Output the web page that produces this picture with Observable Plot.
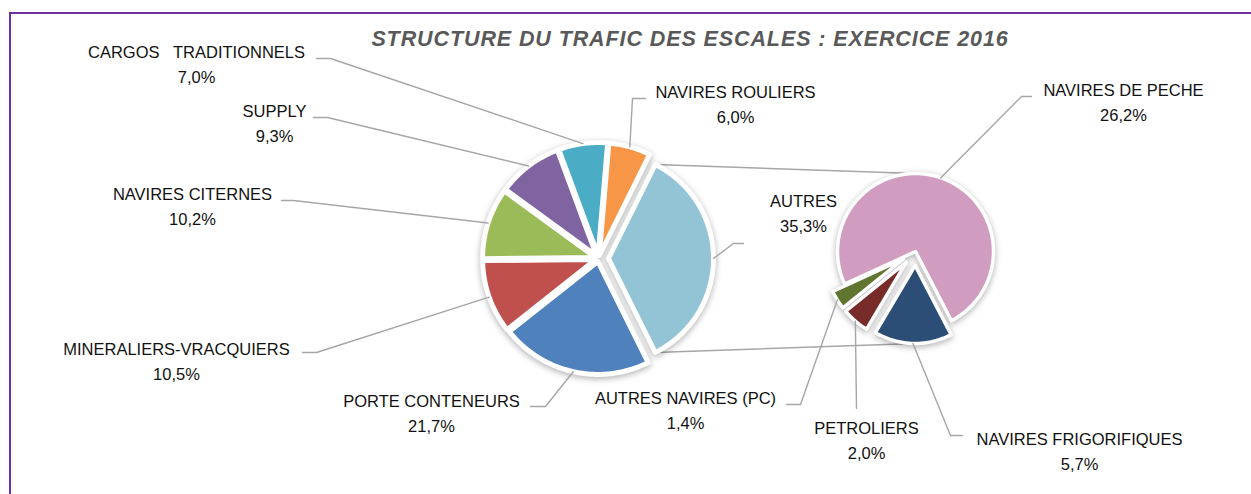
<!DOCTYPE html>
<html><head><meta charset="utf-8">
<script src="https://cdn.jsdelivr.net/npm/d3@7"></script>
<script src="https://cdn.jsdelivr.net/npm/@observablehq/plot@0.6"></script>
<style>
html,body{margin:0;padding:0;background:#fff;width:1251px;height:494px;overflow:hidden;}
#wrap{position:relative;width:1251px;height:494px;}
#frame{position:absolute;left:9px;top:12px;right:0;bottom:0;border-top:2px solid #7030A0;border-left:2px solid #7030A0;}
#chart{position:absolute;left:0;top:0;}
#title{position:absolute;left:0;width:1380px;top:27px;margin:0;text-align:center;font:italic bold 21.5px "Liberation Sans",Arial,sans-serif;letter-spacing:0.9px;color:#595959;line-height:24px;}
</style></head><body>
<div id="wrap"><div id="frame"></div><div id="chart"></div><h2 id="title">STRUCTURE DU TRAFIC DES ESCALES : EXERCICE 2016</h2></div>
<script>
// ---- data ----
const mainCategories = ["AUTRES", "PORTE CONTENEURS", "MINERALIERS-VRACQUIERS", "NAVIRES CITERNES", "SUPPLY", "CARGOS   TRADITIONNELS", "NAVIRES ROULIERS"];
const mainValues = [35.3, 21.7, 10.5, 10.2, 9.3, 7.0, 6.0];
const subCategories = ["NAVIRES FRIGORIFIQUES", "PETROLIERS", "AUTRES NAVIRES (PC)", "NAVIRES DE PECHE"];
const subValues = [5.7, 2.0, 1.4, 26.2];

// ---- styles ----
const mainColors = ["#93C4D6", "#4F81BD", "#C0504D", "#9BBB59", "#8064A2", "#4BACC6", "#F79646"];
const subColors = ["#2C4D75", "#772C2A", "#5F7530", "#D09DC1"];

// ---- layout ----
const W = 1251, H = 494;
const mainPie = {cx: 598, cy: 258, r: 113, explode: 3, otherExplode: 10, otherR: 105};
const subPie = {cx: 915, cy: 251, r: 78, explode: 14, startDeg: 152.5};
const labelLayout = {
  "CARGOS   TRADITIONNELS": {x: 196, y: 57, leader: [[316, 58], [330, 58]]},
  "SUPPLY": {x: 274, y: 116, leader: [[313, 117], [327, 117]]},
  "NAVIRES CITERNES": {x: 192, y: 199, leader: [[281, 200], [293, 200]]},
  "MINERALIERS-VRACQUIERS": {x: 176, y: 354, leader: [[302, 352], [316, 352]]},
  "PORTE CONTENEURS": {x: 431, y: 406, leader: [[530, 406], [545, 406]]},
  "AUTRES": {x: 803, y: 206, leader: [[743, 243], [733, 243]]},
  "NAVIRES ROULIERS": {x: 735, y: 97, leader: [[645, 98], [632, 98]]},
  "NAVIRES DE PECHE": {x: 1123, y: 95, leader: [[1031, 96], [1021, 96]]},
  "AUTRES NAVIRES (PC)": {x: 685, y: 403, leader: [[786, 404], [800, 404]]},
  "PETROLIERS": {x: 866, y: 433, leader: [[856, 408]]},
  "NAVIRES FRIGORIFIQUES": {x: 1079, y: 444, leader: [[962, 435], [950, 435]]}
};
const lineGap = 25;

// ---- geometry from data ----
const rad = d => d * Math.PI / 180;
function slice(cat, value, a0, a1, cx, cy, r, explode) {
  const mid = (a0 + a1) / 2;
  const ox = cx + explode * Math.sin(mid), oy = cy - explode * Math.cos(mid);
  const pts = [{key: cat, cat, x: ox, y: oy}];
  const n = Math.max(2, Math.ceil((a1 - a0) / rad(1)));
  for (let i = 0; i <= n; i++) {
    const a = a0 + (a1 - a0) * i / n;
    pts.push({key: cat, cat, x: ox + r * Math.sin(a), y: oy - r * Math.cos(a)});
  }
  return {cat, value, pts, a0, a1, ox, oy, r,
    mid: {x: ox + r * Math.sin(mid), y: oy - r * Math.cos(mid)},
    start: {x: ox + r * Math.sin(a0), y: oy - r * Math.cos(a0)},
    end: {x: ox + r * Math.sin(a1), y: oy - r * Math.cos(a1)}};
}

const mainData = mainCategories.map((c, i) => ({cat: c, value: mainValues[i]}));
const mainTotal = d3.sum(mainValues);
const mainStart = rad(90) - Math.PI * mainValues[0] / mainTotal;
const mainArcs = d3.pie().sort(null).value(d => d.value).startAngle(mainStart).endAngle(mainStart + 2 * Math.PI)(mainData);
const mainSlices = mainArcs.map((a, i) => i === 0
  ? slice(a.data.cat, a.data.value, a.startAngle, a.endAngle, mainPie.cx, mainPie.cy, mainPie.otherR, mainPie.otherExplode)
  : slice(a.data.cat, a.data.value, a.startAngle, a.endAngle, mainPie.cx, mainPie.cy, mainPie.r, mainPie.explode));

const subData = subCategories.map((c, i) => ({cat: c, value: subValues[i]}));
const subStart = rad(subPie.startDeg);
const subArcs = d3.pie().sort(null).value(d => d.value).startAngle(subStart).endAngle(subStart + 2 * Math.PI)(subData);
const subSlices = subArcs.map((a, i) => slice(a.data.cat, a.data.value, a.startAngle, a.endAngle, subPie.cx, subPie.cy, subPie.r, i < subArcs.length - 1 ? subPie.explode : 0));

const fmt = v => v.toFixed(1).replace(".", ",") + "%";
const allSlices = [...mainSlices, ...subSlices];
const labels = allSlices.map(s => {
  const L = labelLayout[s.cat];
  return {cat: s.cat, x: L.x, y: L.y + lineGap, text: s.cat + "\n" + fmt(s.value)};
});
const leaders = allSlices.flatMap(s => {
  const L = labelLayout[s.cat];
  return [...L.leader.map(p => ({key: s.cat, x: p[0], y: p[1]})), {key: s.cat, x: s.mid.x, y: s.mid.y}];
});
const other = mainSlices[0];
const connectors = [
  {key: "top", x: other.start.x, y: other.start.y}, {key: "top", x: subPie.cx, y: subPie.cy - subPie.r},
  {key: "bot", x: other.end.x, y: other.end.y}, {key: "bot", x: subPie.cx, y: subPie.cy + subPie.r + subPie.explode}
];

const plot = Plot.plot({
  width: W, height: H, margin: 0,
  x: {type: "identity", axis: null},
  y: {type: "identity", axis: null},
  color: {domain: [...mainCategories, ...subCategories], range: [...mainColors, ...subColors]},
  style: {background: "transparent", overflow: "visible"},
  marks: [
    Plot.line(connectors, {x: "x", y: "y", z: "key", stroke: "#A6A6A6", strokeWidth: 1.4}),
    Plot.line(mainSlices.flatMap(s => s.pts), {x: "x", y: "y", z: "key", fill: "cat", stroke: "white", strokeWidth: 5, strokeLinejoin: "round", curve: "linear-closed"}),
    Plot.line(subSlices.flatMap(s => s.pts), {x: "x", y: "y", z: "key", fill: "cat", stroke: "white", strokeWidth: 3.5, strokeLinejoin: "round", curve: "linear-closed"}),
    Plot.line(leaders, {x: "x", y: "y", z: "key", stroke: "#A6A6A6", strokeWidth: 1.4}),
    Plot.text(labels, {x: "x", y: "y", text: "text", lineAnchor: "bottom", lineHeight: lineGap / 16.5, fontSize: 16.5, fontFamily: "Liberation Sans, Arial, sans-serif", fill: "#111"})
  ]
});
document.getElementById("chart").appendChild(plot);
const groups = plot.querySelectorAll('g[aria-label="line"]');
[groups[1], groups[2]].forEach(g => { if (g) g.style.filter = "drop-shadow(0px 2px 3px rgba(0,0,0,0.3))"; });
</script>
</body></html>
